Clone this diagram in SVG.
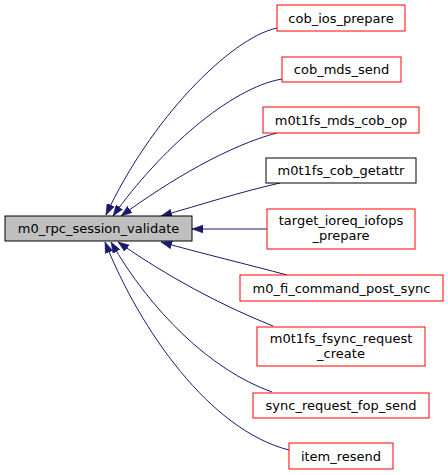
<svg xmlns="http://www.w3.org/2000/svg" width="448" height="475" viewBox="0 0 448 475">
<style>
.n rect{fill:#fff;stroke:#ff0000;stroke-width:1}
.n.b rect{stroke:#000}
.n.m rect{fill:#bfbfbf;stroke:#000}
text{font-family:"DejaVu Sans",sans-serif;font-size:13px;fill:#000;text-anchor:middle}
.e path{fill:none;stroke:#191970;stroke-width:1;marker-end:url(#ah)}
</style>
<defs>
<marker id="ah" markerUnits="userSpaceOnUse" markerWidth="11" markerHeight="8" refX="11" refY="4" orient="auto">
<path d="M0,0 L11,4 L0,8 z" fill="#191970" stroke="#191970" stroke-width="0.5"/>
</marker>
</defs>
<rect width="448" height="475" fill="#fff"/>
<g id="edges" class="e">
<path d="M277,28 C230,38 150,120 106,215"/>
<path d="M282,79 C230,88 160,150 113,216"/>
<path d="M277,133 C230,145 170,180 121,216"/>
<path d="M280,183 C240,192 200,205 161,216"/>
<path d="M267,229 L192,229"/>
<path d="M287,275 C250,265 200,253 161,242"/>
<path d="M273,326 C220,305 165,275 118,242"/>
<path d="M272,392 C210,370 150,310 111,242"/>
<path d="M289,450 C210,430 140,330 105,242"/>
</g>
<g id="main" class="n m"><rect x="5" y="216" width="187" height="25"/><text x="98.5" y="233">m0_rpc_session_validate</text></g>
<g id="n1" class="n"><rect x="277" y="5" width="128" height="26"/><text x="341" y="23">cob_ios_prepare</text></g>
<g id="n2" class="n"><rect x="282" y="57" width="119" height="25"/><text x="341.5" y="74">cob_mds_send</text></g>
<g id="n3" class="n"><rect x="263" y="107" width="156" height="26"/><text x="341" y="125">m0t1fs_mds_cob_op</text></g>
<g id="n4" class="n b"><rect x="266" y="158" width="150" height="25"/><text x="341" y="175">m0t1fs_cob_getattr</text></g>
<g id="n5" class="n"><rect x="267" y="209" width="148" height="40"/><text x="341" y="225">target_ioreq_iofops</text><text x="341" y="240">_prepare</text></g>
<g id="n6" class="n"><rect x="240" y="275" width="203" height="26"/><text x="341.5" y="293">m0_fi_command_post_sync</text></g>
<g id="n7" class="n"><rect x="257" y="327" width="168" height="39"/><text x="341" y="343">m0t1fs_fsync_request</text><text x="341" y="358">_create</text></g>
<g id="n8" class="n"><rect x="253" y="393" width="176" height="25"/><text x="341" y="410">sync_request_fop_send</text></g>
<g id="n9" class="n"><rect x="289" y="443" width="104" height="26"/><text x="341" y="461">item_resend</text></g>
</svg>
